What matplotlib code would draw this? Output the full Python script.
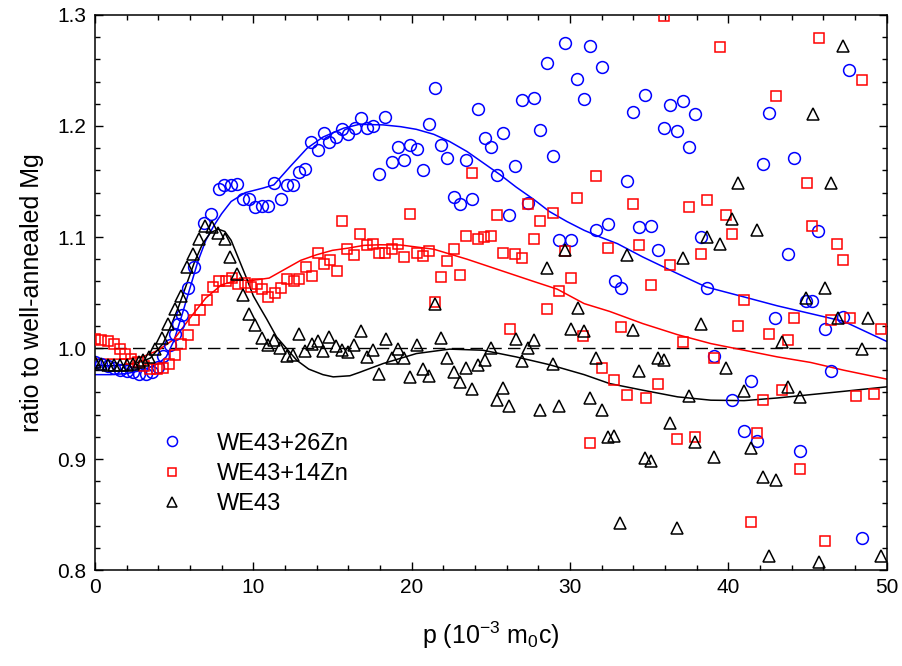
import matplotlib
matplotlib.use("Agg")
import matplotlib.pyplot as plt
from matplotlib.ticker import MultipleLocator

plt.rcParams['font.family'] = ['Liberation Sans', 'DejaVu Sans']

# WE43+26Zn (blue circles)
zn26_x = [0, 0.4, 0.8, 1.2, 1.6, 2.0, 2.4, 2.8, 3.2, 3.6, 4.0, 4.3, 4.74, 5.05, 5.26, 5.47,
          5.85, 6.27, 6.9, 7.3, 7.81, 8.17, 8.57, 8.97, 9.33, 9.75, 10.11, 10.53, 10.95, 11.33,
          11.73, 12.11, 12.49, 12.89, 13.29, 13.67, 14.07, 14.45, 14.8, 15.24, 15.6, 15.98,
          16.42, 16.78, 17.16, 17.58, 17.96, 18.34, 18.74, 19.16, 19.52, 19.92, 20.32, 20.7,
          21.08, 21.48, 21.86, 22.26, 22.68, 23.06, 23.44, 23.83, 24.21, 24.62, 25.0, 25.4,
          25.77, 26.17, 26.55, 26.95, 27.33, 27.71, 28.11, 28.53, 28.91, 29.31, 29.71, 30.05,
          30.45, 30.87, 31.25, 31.63, 32.03, 32.43, 32.83, 33.23, 33.59, 33.97, 34.39, 34.76,
          35.14, 35.57, 35.93, 36.32, 36.75, 37.13, 37.5, 37.92, 38.26, 38.68, 39.08, 40.24,
          41.02, 41.42, 41.8, 42.18, 42.6, 42.98, 43.78, 44.14, 44.54, 44.91, 45.31, 45.69,
          46.14, 46.47, 47.23, 47.65, 48.45]
zn26_y = [0.987, 0.986, 0.984, 0.982, 0.980, 0.979, 0.978, 0.977, 0.977, 0.978, 0.983, 0.993,
          1.003, 1.013, 1.022, 1.030, 1.054, 1.073, 1.113, 1.121, 1.143, 1.147, 1.147, 1.1475,
          1.134, 1.134, 1.127, 1.1276, 1.128, 1.149, 1.1345, 1.1468, 1.1468, 1.159, 1.161,
          1.186, 1.178, 1.194, 1.186, 1.190, 1.197, 1.1925, 1.198, 1.207, 1.198, 1.200, 1.157,
          1.208, 1.168, 1.181, 1.169, 1.183, 1.179, 1.160, 1.202, 1.2345, 1.183, 1.171, 1.136,
          1.130, 1.169, 1.1345, 1.2156, 1.1895, 1.181, 1.156, 1.194, 1.120, 1.164, 1.223,
          1.131, 1.225, 1.196, 1.257, 1.173, 1.097, 1.275, 1.097, 1.242, 1.224, 1.272, 1.106,
          1.2535, 1.112, 1.060, 1.054, 1.150, 1.213, 1.109, 1.228, 1.110, 1.088, 1.198, 1.219,
          1.1955, 1.2225, 1.181, 1.211, 1.100, 1.054, 0.993, 0.953, 0.925, 0.970, 0.9165,
          1.166, 1.212, 1.027, 1.085, 1.171, 0.907, 1.042, 1.042, 1.105, 1.017, 0.979, 1.028,
          1.2505, 0.829]

# WE43+14Zn (red squares)
zn14_x = [0, 0.4, 0.8, 1.2, 1.55, 1.9, 2.3, 2.7, 3.1, 3.5, 3.9, 4.3, 4.7, 5.05, 5.45, 5.85,
          6.25, 6.65, 7.05, 7.45, 7.85, 8.25, 8.65, 9.05, 9.45, 9.85, 10.25, 10.55, 10.95,
          11.35, 11.75, 12.15, 12.55, 12.9, 13.3, 13.7, 14.07, 14.47, 14.85, 15.27, 15.62,
          15.94, 16.38, 16.74, 17.16, 17.58, 17.96, 18.34, 18.74, 19.16, 19.54, 19.92, 20.32,
          20.7, 21.08, 21.5, 21.86, 22.26, 22.68, 23.06, 23.44, 23.83, 24.21, 24.59, 25.0,
          25.4, 25.77, 26.19, 26.55, 26.95, 27.33, 27.71, 28.11, 28.53, 28.91, 29.31, 29.69,
          30.07, 30.47, 30.85, 31.27, 31.63, 32.05, 32.43, 32.8, 33.21, 33.61, 33.97, 34.39,
          34.79, 35.14, 35.57, 35.94, 36.32, 36.75, 37.13, 37.5, 37.9, 38.28, 38.68, 39.08,
          39.48, 39.86, 40.26, 40.62, 41.02, 41.42, 41.8, 42.2, 42.58, 43.0, 43.38, 43.76,
          44.15, 44.54, 44.95, 45.31, 45.71, 46.11, 46.47, 46.89, 47.27, 47.69, 48.07, 48.47,
          49.23, 49.63]
zn14_y = [1.008, 1.007, 1.006, 1.004, 0.999, 0.995, 0.990, 0.987, 0.984, 0.981, 0.981, 0.982,
          0.986, 0.994, 1.004, 1.012, 1.025, 1.034, 1.043, 1.055, 1.060, 1.060, 1.063, 1.058,
          1.059, 1.055, 1.058, 1.053, 1.046, 1.050, 1.054, 1.062, 1.060, 1.062, 1.073, 1.065,
          1.086, 1.076, 1.079, 1.069, 1.114, 1.089, 1.084, 1.103, 1.0925, 1.094, 1.086, 1.086,
          1.0895, 1.094, 1.082, 1.1205, 1.086, 1.083, 1.087, 1.041, 1.064, 1.078, 1.089, 1.066,
          1.101, 1.158, 1.0985, 1.100, 1.101, 1.120, 1.086, 1.017, 1.085, 1.081, 1.130, 1.098,
          1.114, 1.035, 1.122, 1.051, 1.087, 1.063, 1.135, 1.011, 0.914, 1.155, 0.982, 1.090,
          0.971, 1.019, 0.958, 1.130, 1.0925, 0.955, 1.057, 0.968, 1.299, 1.075, 0.918, 1.005,
          1.127, 0.920, 1.085, 1.133, 0.991, 1.2715, 1.120, 1.103, 1.020, 1.043, 0.8435, 0.923,
          0.953, 1.013, 1.227, 0.962, 1.007, 1.027, 0.891, 1.149, 1.110, 1.279, 0.826, 1.025,
          1.094, 1.079, 1.027, 0.957, 1.241, 0.959, 1.017]

# WE43 (black triangles)
we43_x = [0, 0.4, 0.8, 1.2, 1.6, 2.0, 2.4, 2.8, 3.05, 3.4, 3.8, 4.21, 4.63, 5.05, 5.41, 5.8,
          6.2, 6.6, 6.95, 7.4, 7.8, 8.2, 8.55, 8.97, 9.35, 9.75, 10.11, 10.53, 10.95, 11.31,
          11.69, 12.11, 12.53, 12.89, 13.27, 13.69, 14.07, 14.42, 14.8, 15.2, 15.58, 15.96,
          16.38, 16.8, 17.2, 17.58, 17.96, 18.36, 18.74, 19.16, 19.54, 19.92, 20.32, 20.7,
          21.1, 21.5, 21.86, 22.26, 22.68, 23.06, 23.44, 23.83, 24.21, 24.64, 25.02, 25.4,
          25.79, 26.17, 26.57, 26.95, 27.33, 27.73, 28.13, 28.53, 28.91, 29.31, 29.69, 30.07,
          30.49, 30.87, 31.27, 31.65, 32.03, 32.43, 32.8, 33.16, 33.59, 33.97, 34.39, 34.74,
          35.14, 35.55, 35.94, 36.32, 36.75, 37.13, 37.5, 37.9, 38.28, 38.68, 39.08, 39.48,
          39.86, 40.26, 40.64, 41.02, 41.42, 41.82, 42.2, 42.6, 43.0, 43.38, 43.76, 44.54,
          44.91, 45.33, 45.73, 46.11, 46.49, 46.92, 47.27, 48.47, 48.85, 49.63]
we43_y = [0.987, 0.986, 0.985, 0.985, 0.985, 0.985, 0.986, 0.987, 0.989, 0.992, 0.999, 1.009,
          1.022, 1.035, 1.047, 1.073, 1.085, 1.098, 1.110, 1.109, 1.104, 1.098, 1.082, 1.067,
          1.048, 1.031, 1.021, 1.0087, 1.003, 1.007, 1.000, 0.993, 0.994, 1.013, 0.997, 1.004,
          1.006, 0.997, 1.010, 1.002, 0.998, 0.996, 1.003, 1.015, 0.992, 0.998, 0.977, 1.008,
          0.991, 0.999, 0.991, 0.974, 1.003, 0.981, 0.975, 1.040, 1.009, 0.991, 0.978, 0.969,
          0.982, 0.963, 0.985, 0.989, 1.000, 0.953, 0.964, 0.948, 1.008, 0.988, 1.000, 1.007,
          0.944, 1.072, 0.986, 0.948, 1.088, 1.017, 1.036, 1.015, 0.955, 0.991, 0.944, 0.920,
          0.921, 0.842, 1.084, 1.016, 0.979, 0.901, 0.898, 0.991, 0.989, 0.932, 0.838, 1.081,
          0.957, 0.915, 1.022, 1.100, 0.902, 1.094, 0.982, 1.116, 1.149, 0.961, 0.910, 1.106,
          0.884, 0.813, 0.881, 1.005, 0.965, 0.956, 1.045, 1.211, 0.807, 1.054, 1.149, 1.027,
          1.272, 0.999, 1.027, 0.813]

# fitted curves
fit26_x = [0, 1, 2, 3, 3.5, 4.0, 4.5, 5.0, 5.5, 6.0, 6.5, 7.0, 7.5, 8.0, 8.6, 9.5, 10.6, 11.3,
           12.3, 13.4, 14.4, 15.7, 16.7, 18.2, 19.3, 20.3, 21.4, 22.4, 23.5, 24.5, 25.6, 26.6,
           27.7, 28.7, 29.8, 30.9, 31.9, 33.0, 34.6, 36.8, 38.6, 41.0, 43.1, 45.2, 47.3, 48.5, 50]
fit26_y = [0.976, 0.976, 0.977, 0.980, 0.983, 0.986, 0.992, 1.007, 1.030, 1.054, 1.078, 1.097,
           1.110, 1.121, 1.132, 1.140, 1.144, 1.147, 1.163, 1.180, 1.190, 1.198, 1.2015, 1.201,
           1.1994, 1.197, 1.1925, 1.186, 1.177, 1.167, 1.156, 1.145, 1.134, 1.123, 1.114, 1.106,
           1.100, 1.094, 1.082, 1.067, 1.055, 1.046, 1.038, 1.031, 1.024, 1.016, 1.006]

fit14_x = [0, 1, 2, 3, 4, 5, 6, 7, 8, 9, 10, 11, 12, 13, 14, 15, 16, 17, 18, 19.3, 21.4, 23.5,
           25.6, 27.7, 29.2, 30.9, 32.5, 34.6, 36.8, 38.9, 41.0, 43.1, 45.2, 47.3, 50]
fit14_y = [0.990, 0.990, 0.990, 0.992, 0.998, 1.008, 1.027, 1.045, 1.057, 1.061, 1.061, 1.063,
           1.071, 1.079, 1.084, 1.088, 1.090, 1.0925, 1.093, 1.0928, 1.089, 1.080, 1.070, 1.060,
           1.053, 1.040, 1.033, 1.022, 1.012, 1.004, 0.998, 0.992, 0.987, 0.980, 0.972]

fit43_x = [0, 1, 2, 3, 3.5, 4.3, 4.8, 5.3, 5.8, 6.3, 6.8, 7.3, 7.8, 8.2, 8.6, 9.0, 9.6, 10.0,
           10.4, 10.85, 11.47, 12.74, 13.5, 14.4, 15.05, 16.1, 16.7, 18.2, 20.3, 22.4, 24.5,
           26.6, 28.7, 30.9, 32.5, 34.6, 36.8, 38.9, 41.0, 43.1, 45.2, 47.3, 50]
fit43_y = [0.984, 0.984, 0.985, 0.988, 0.991, 1.004, 1.020, 1.038, 1.058, 1.078, 1.094, 1.104,
           1.107, 1.105, 1.097, 1.083, 1.062, 1.047, 1.037, 1.026, 1.010, 0.989, 0.981, 0.976,
           0.974, 0.975, 0.978, 0.986, 0.995, 0.999, 0.998, 0.992, 0.985, 0.976, 0.968, 0.962,
           0.956, 0.953, 0.9526, 0.955, 0.958, 0.961, 0.965]

blue = '#0000ff'
red = '#ff0000'

fig = plt.figure(figsize=(9.02, 6.66), dpi=100)
ax = fig.add_axes([0.1053, 0.1441, 0.8776, 0.8334])

ax.axhline(1.0, color='black', lw=1.0, dashes=(9, 4.5), zorder=1)

ax.plot(fit26_x, fit26_y, color=blue, lw=1.1, zorder=2)
ax.plot(fit14_x, fit14_y, color=red, lw=1.1, zorder=2)
ax.plot(fit43_x, fit43_y, color='black', lw=1.1, zorder=2)

ax.plot(zn26_x, zn26_y, 'o', ms=8.5, mfc='none', mec=blue, mew=1.1, ls='none',
        label='WE43+26Zn', zorder=3)
ax.plot(zn14_x, zn14_y, 's', ms=7.5, mfc='none', mec=red, mew=1.1, ls='none',
        label='WE43+14Zn', zorder=3)
ax.plot(we43_x, we43_y, '^', ms=8.5, mfc='none', mec='black', mew=1.1, ls='none',
        label='WE43', zorder=3)

ax.set_xlim(0, 50)
ax.set_ylim(0.8, 1.3)
ax.xaxis.set_major_locator(MultipleLocator(10))
ax.xaxis.set_minor_locator(MultipleLocator(2))
ax.yaxis.set_major_locator(MultipleLocator(0.1))
ax.yaxis.set_minor_locator(MultipleLocator(0.02))
ax.yaxis.set_major_formatter(matplotlib.ticker.FormatStrFormatter('%.1f'))
ax.tick_params(which='both', direction='in', top=True, right=True, labelsize=15, width=1.0)
ax.tick_params(which='major', length=6, pad=6)
ax.tick_params(which='minor', length=3.5)
for s in ax.spines.values():
    s.set_linewidth(1.1)

ax.set_xlabel(r'p (10$^{\mathregular{-3}}$ m$_{\mathregular{0}}$c)', fontsize=18, labelpad=16)
ax.set_ylabel('ratio to well-annealed Mg', fontsize=18, labelpad=10)

ax.legend(loc='center left', bbox_to_anchor=(0.082, 0.173), frameon=False, fontsize=17,
          handlelength=1.0, handletextpad=1.4, labelspacing=0.35, borderpad=0,
          borderaxespad=0, markerscale=0.85)

plt.savefig('out.png', dpi=100)
